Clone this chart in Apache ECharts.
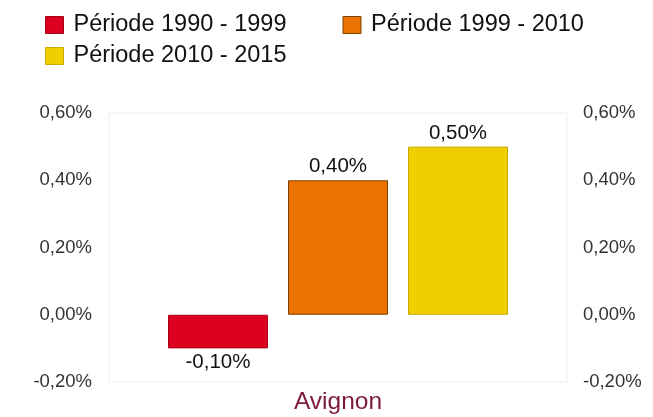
<!DOCTYPE html>
<html>
<head>
<meta charset="utf-8">
<script src="https://cdn.jsdelivr.net/npm/echarts@6/dist/echarts.min.js"></script>
<style>
  html, body { margin: 0; padding: 0; background: #fff; }
  #chart { width: 653px; height: 417px; }
</style>
</head>
<body>
<div id="chart"></div>
<script>
// données
const categories = ['Avignon'];
const periodes = ['Période 1990 - 1999', 'Période 1999 - 2010', 'Période 2010 - 2015'];
const valeurs = [-0.10, 0.40, 0.50];
const couleurs = ['#da001e', '#ec7200', '#f0cf00'];
const bordures = ['#a8001a', '#7a4200', '#c9a800'];

function fmt(v) {
  return v.toFixed(2).replace('.', ',') + '%';
}

const chart = echarts.init(document.getElementById('chart'));

const series = periodes.map(function (nom, i) {
  return {
    name: nom,
    type: 'bar',
    barWidth: 100,
    barGap: '20%',
    itemStyle: { color: couleurs[i], borderColor: bordures[i], borderWidth: 1 },
    label: {
      show: true,
      position: valeurs[i] < 0 ? 'bottom' : 'top',
      distance: 3,
      formatter: function (p) { return fmt(p.value); },
      color: '#111',
      fontSize: 20.5,
      fontFamily: 'Liberation Sans'
    },
    data: [valeurs[i]]
  };
});

const axeY = function (pos) {
  return {
    type: 'value',
    position: pos,
    min: -0.2,
    max: 0.6,
    interval: 0.2,
    axisLine: { show: false },
    axisTick: { show: false },
    splitLine: { show: false },
    axisLabel: {
      formatter: function (v) { return fmt(v); },
      color: '#333',
      fontSize: 18.5,
      fontFamily: 'Liberation Sans',
      margin: pos === 'left' ? 17 : 16
    }
  };
};

const legendeBase = {
  left: 40,
  itemWidth: 18, itemHeight: 17, itemGap: 56,
  icon: 'rect',
  itemStyle: { borderWidth: 1 },
  textStyle: { fontSize: 23.5, color: '#111', padding: [0, 0, 0, 5] }
};

chart.setOption({
  animation: false,
  textStyle: { fontFamily: 'Liberation Sans' },
  legend: [
    Object.assign({}, legendeBase, { data: periodes.slice(0, 2), top: 8 }),
    Object.assign({}, legendeBase, { data: periodes.slice(2), top: 39 })
  ],
  grid: {
    left: 109, right: 86, top: 113, bottom: 35,
    show: true, borderColor: '#eeeeee', borderWidth: 1
  },
  xAxis: {
    type: 'category',
    data: categories,
    axisLine: { show: false },
    axisTick: { show: false },
    axisLabel: { color: '#7b1a3e', fontSize: 24.5, margin: 8 }
  },
  yAxis: [axeY('left'), axeY('right')],
  series: series
});
</script>
</body>
</html>
